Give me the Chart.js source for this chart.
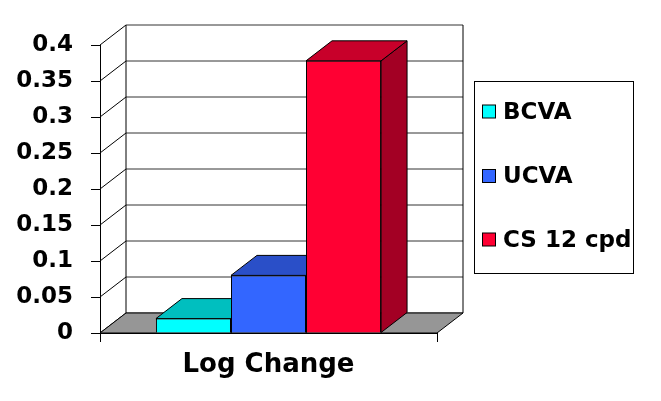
<!DOCTYPE html>
<html><head><meta charset="utf-8">
<script src="https://cdn.jsdelivr.net/npm/chart.js@4/dist/chart.umd.min.js"></script>
<style>html,body{margin:0;padding:0;background:#fff;overflow:hidden}canvas{display:block}</style>
</head><body><canvas id="c" width="661" height="401" style="width:661px;height:401px"></canvas>
<script>
// ---- data ----
const categories = ['Log Change'];
const seriesNames = ['BCVA', 'UCVA', 'CS 12 cpd'];
const bcvaValues = [0.02];
const ucvaValues = [0.08];
const cs12Values = [0.378];
const yTickValues = [0, 0.05, 0.1, 0.15, 0.2, 0.25, 0.3, 0.35, 0.4];

// ---- style ----
const FONT = 'DejaVu Sans';
const frontColors = ['#00FFFF', '#3366FF', '#FF0033'];
const topColors = ['#00BFBF', '#2A4FC8', '#C8002A'];
const sideColors = ['#008C8C', '#1E3C9A', '#A30024'];
const DX = 26, DY = -20;

function poly(ctx, pts, fill, stroke) {
  ctx.beginPath();
  ctx.moveTo(pts[0][0], pts[0][1]);
  for (let i = 1; i < pts.length; i++) ctx.lineTo(pts[i][0], pts[i][1]);
  ctx.closePath();
  if (fill) { ctx.fillStyle = fill; ctx.fill(); }
  if (stroke) { ctx.strokeStyle = stroke; ctx.lineWidth = 1; ctx.stroke(); }
}
function line(ctx, x1, y1, x2, y2, color) {
  ctx.beginPath(); ctx.moveTo(x1, y1); ctx.lineTo(x2, y2);
  ctx.strokeStyle = color; ctx.lineWidth = 1; ctx.stroke();
}

const threeD = {
  id: 'threeD',
  beforeDatasetsDraw(chart) {
    const { ctx, chartArea: a, scales: { y } } = chart;
    ctx.save();
    const y0 = y.getPixelForValue(0);
    const yTop = y.getPixelForValue(y.max);
    yTickValues.forEach(v => {
      const py = y.getPixelForValue(v);
      line(ctx, a.left, py, a.left + DX, py + DY, '#000');
      line(ctx, a.left + DX, py + DY, a.right + DX, py + DY, '#333');
    });
    line(ctx, a.left + DX, yTop + DY, a.left + DX, y0 + DY, '#000');
    line(ctx, a.right + DX, yTop + DY, a.right + DX, y0 + DY, '#000');
    poly(ctx, [[a.left, y0], [a.right, y0], [a.right + DX, y0 + DY], [a.left + DX, y0 + DY]], '#969696', '#000');
    chart.data.datasets.forEach((ds, i) => {
      const meta = chart.getDatasetMeta(i);
      meta.data.forEach(bar => {
        const p = bar.getProps(['x', 'y', 'base', 'width'], true);
        const l = p.x - p.width / 2, r = p.x + p.width / 2;
        poly(ctx, [[r, p.y], [r + DX, p.y + DY], [r + DX, p.base + DY], [r, p.base]], sideColors[i], '#000');
        poly(ctx, [[l, p.y], [r, p.y], [r + DX, p.y + DY], [l + DX, p.y + DY]], topColors[i], '#000');
      });
    });
    ctx.restore();
  },
  afterDraw(chart) {
    const { ctx, chartArea: a } = chart;
    ctx.save();
    const bx = a.right + 37, by = 81, bw = 159, bh = 192;
    ctx.strokeStyle = '#000'; ctx.lineWidth = 1;
    ctx.strokeRect(bx + 0.5, by + 0.5, bw, bh);
    ctx.font = 'bold 23px "' + FONT + '"';
    ctx.textBaseline = 'middle';
    const rows = [112, 176.5, 240];
    chart.data.datasets.forEach((ds, i) => {
      const cy = rows[i];
      ctx.fillStyle = frontColors[i];
      ctx.fillRect(bx + 8.5, cy - 7, 13, 13);
      ctx.strokeStyle = '#000';
      ctx.strokeRect(bx + 8.5, cy - 7, 13, 13);
      ctx.fillStyle = '#000';
      ctx.fillText(ds.label, bx + 29, cy + 1);
    });
    ctx.restore();
  }
};

const datasetValues = [bcvaValues, ucvaValues, cs12Values];
new Chart(document.getElementById('c'), {
  type: 'bar',
  data: {
    labels: categories,
    datasets: seriesNames.map((name, i) => ({
      label: name,
      data: datasetValues[i],
      backgroundColor: frontColors[i],
      borderColor: '#000',
      borderWidth: 1,
      categoryPercentage: 0.668,
      barPercentage: 1
    }))
  },
  options: {
    responsive: false,
    animation: false,
    events: [],
    layout: { padding: { left: 16, right: 224, top: 45, bottom: 0 } },
    plugins: { legend: { display: false }, tooltip: { enabled: false } },
    scales: {
      x: {
        offset: true,
        afterFit: s => { s.height = 68; },
        grid: { offset: true, drawOnChartArea: false, tickLength: 9, color: '#000' },
        border: { color: '#000' },
        ticks: { color: '#000', padding: 8, font: { family: FONT, size: 26, weight: 'bold' } }
      },
      y: {
        min: 0, max: 0.4,
        afterFit: s => { s.width = 84; },
        afterBuildTicks: s => { s.ticks = yTickValues.map(v => ({ value: v })); },
        grid: { drawOnChartArea: false, tickLength: 9, color: '#000' },
        border: { color: '#000' },
        ticks: {
          color: '#000', padding: 18,
          font: { family: FONT, size: 23, weight: 'bold' },
          callback: v => String(+v.toFixed(2))
        }
      }
    }
  },
  plugins: [threeD]
});
</script>
</body></html>
